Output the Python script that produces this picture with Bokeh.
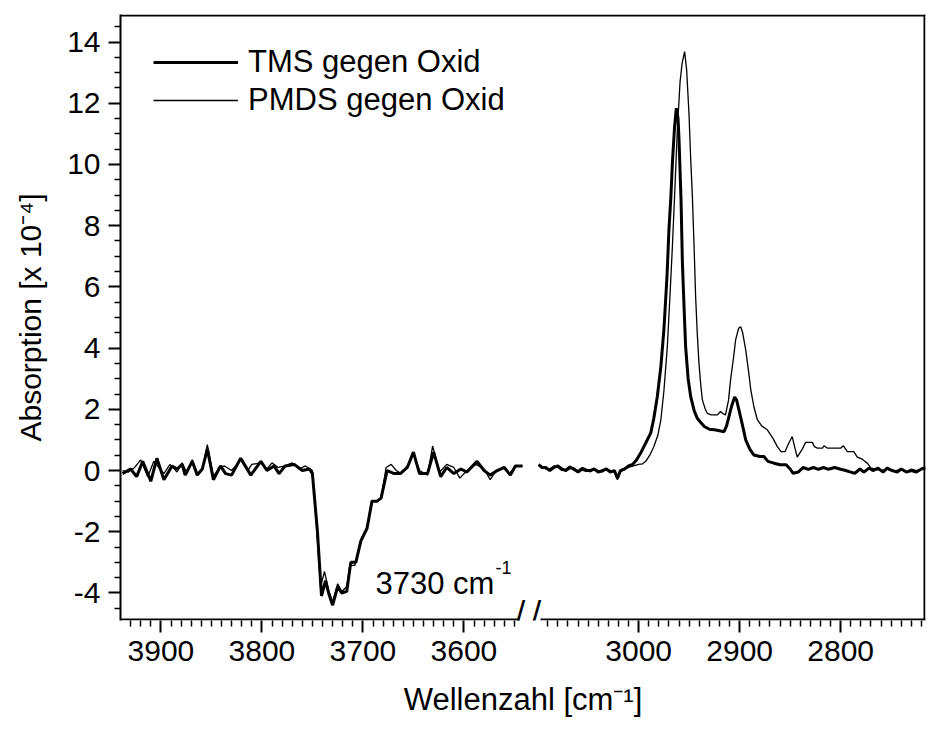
import numpy as np
from bokeh.plotting import figure
from bokeh.models import Range1d, FixedTicker, Label, Legend, LegendItem
from bokeh.embed import file_html
from bokeh.resources import INLINE

# ---------------- data (wavenumber in cm-1, absorption x 1e-4) ----------------
tms_left_w = [3938, 3930, 3924, 3918, 3910, 3904, 3897, 3889, 3884, 3879, 3876, 3869, 3864, 3859,
              3854, 3848, 3841, 3836, 3830, 3821, 3811, 3801, 3795, 3788, 3783, 3777, 3768, 3760,
              3753, 3750, 3745, 3741, 3737, 3734, 3730, 3725, 3721, 3716, 3712, 3707, 3702, 3696,
              3691, 3686, 3682, 3676, 3669, 3663, 3656, 3650, 3644, 3636, 3630, 3623, 3617, 3610,
              3603, 3597, 3587, 3580, 3574, 3567, 3560, 3554, 3549, 3542]
tms_left_y = [-0.1, 0.05, -0.2, 0.3, -0.35, 0.4, -0.3, 0.15, 0.05, 0.2, -0.15, 0.3, -0.15, 0.05,
              0.7, -0.3, 0.15, -0.1, -0.15, 0.4, -0.15, 0.3, 0.0, 0.15, -0.1, 0.15, 0.2, 0.0,
              0.05, -0.1, -2.0, -4.1, -3.6, -4.0, -4.4, -3.8, -4.0, -3.95, -3.0, -3.0, -2.3, -1.9,
              -1.0, -1.0, -0.9, 0.0, -0.1, -0.1, 0.1, 0.6, -0.1, -0.1, 0.6, -0.2, 0.1, -0.1,
              0.05, -0.05, 0.3, 0.0, -0.15, 0.0, 0.1, -0.15, 0.15, 0.15]

pmds_left_w = [3938, 3932, 3926, 3920, 3913, 3907, 3902, 3897, 3891, 3884, 3879, 3874, 3869, 3864,
               3859, 3854, 3848, 3842, 3837, 3830, 3821, 3814, 3810, 3801, 3795, 3790, 3784, 3777,
               3770, 3763, 3757, 3750, 3746, 3742, 3738, 3734, 3730, 3725, 3721, 3716, 3713, 3708,
               3702, 3696, 3691, 3686, 3682, 3677, 3672, 3667, 3662, 3656, 3650, 3644, 3636, 3631,
               3624, 3617, 3610, 3604, 3597, 3588, 3580, 3574, 3568, 3561, 3555, 3549, 3542]
pmds_left_y = [0.0, -0.05, 0.1, 0.35, -0.2, 0.3, 0.1, -0.1, 0.2, -0.05, 0.25, -0.1, 0.35, -0.1,
               0.05, 0.85, -0.2, 0.1, 0.15, 0.0, 0.35, 0.0, 0.2, 0.25, 0.05, 0.25, 0.1, 0.15,
               0.25, 0.05, 0.15, 0.0, -1.8, -3.8, -3.3, -3.9, -4.3, -3.7, -3.95, -3.8, -3.1, -3.1,
               -2.25, -1.85, -1.0, -1.0, -0.9, 0.1, 0.2, 0.0, -0.1, 0.15, 0.55, 0.0, -0.15, 0.8,
               -0.05, 0.2, 0.1, -0.25, 0.0, 0.2, 0.05, -0.3, 0.0, 0.1, -0.1, 0.15, 0.15]

tms_right_w = [3099, 3096, 3092, 3088, 3084, 3080, 3076, 3072, 3068, 3064, 3060, 3056, 3052, 3048,
               3044, 3040, 3036, 3032, 3028, 3024, 3021, 3018, 3014, 3010, 3006, 3002, 2998, 2993,
               2988, 2985, 2981.5, 2978, 2975, 2972, 2970, 2968, 2966.6, 2964.5, 2962.7, 2961,
               2960, 2958, 2956.7, 2955, 2953.5, 2951, 2948.5, 2945, 2942, 2938, 2935, 2930, 2925,
               2920, 2915.5, 2913, 2910.6, 2908, 2905, 2903, 2900.7, 2897, 2894, 2890, 2886, 2880,
               2876, 2872, 2866, 2860, 2854, 2850, 2847, 2842, 2837, 2832, 2827, 2822, 2817, 2812,
               2806, 2800, 2795, 2790, 2786, 2781, 2777, 2772, 2768, 2763, 2758, 2754, 2749, 2744,
               2740, 2735, 2730, 2725, 2720, 2716]
tms_right_y = [0.2, 0.1, 0.1, 0.0, 0.1, 0.15, 0.05, 0.0, 0.1, 0.05, -0.05, 0.05, 0.0, 0.0,
               0.05, -0.05, 0.0, 0.05, -0.05, 0.0, -0.25, 0.0, 0.05, 0.15, 0.2, 0.35, 0.57, 0.9,
               1.23, 1.7, 2.42, 3.4, 4.6, 6.3, 7.87, 9.0, 10.05, 11.2, 11.84, 11.5,
               10.8, 8.8, 6.8, 5.3, 4.05, 3.0, 2.42, 1.95, 1.71, 1.55, 1.44, 1.35, 1.33,
               1.3, 1.27, 1.45, 1.76, 2.1, 2.4, 2.3, 1.98, 1.45, 1.0, 0.7, 0.51, 0.46,
               0.46, 0.3, 0.24, 0.19, 0.19, 0.05, -0.09, -0.05, 0.1, 0.04, 0.1, 0.04, 0.1, 0.04,
               0.1, 0.04, 0.0, -0.05, -0.09, 0.05, -0.05, 0.08, 0.0, 0.08, -0.05, 0.08, 0.0, -0.05,
               0.05, -0.05, 0.0, -0.05, 0.05, 0.1]

pmds_right_w = [3099, 3096, 3092, 3088, 3084, 3080, 3076, 3072, 3068, 3064, 3060, 3056, 3052, 3048,
                3044, 3040, 3036, 3032, 3028, 3024, 3021, 3018, 3014, 3010, 3005, 3000, 2996, 2993,
                2989, 2985, 2981, 2978, 2975, 2971.6, 2969, 2966.6, 2964, 2961.7, 2959, 2957,
                2954.5, 2952.5, 2950.2, 2948.5, 2946.8, 2945, 2943.6, 2942, 2940.3, 2938.5, 2936.9,
                2934, 2932, 2928, 2922, 2919, 2916, 2914, 2911, 2909, 2906, 2904, 2901, 2899, 2897,
                2894, 2891, 2889, 2886, 2882.5, 2878, 2872.6, 2867, 2862.7, 2859, 2855, 2852, 2848,
                2845, 2843, 2838, 2834.7, 2828, 2826, 2823, 2818, 2816.5, 2813, 2806, 2800, 2797.4,
                2793.4, 2787, 2783.5, 2778.6, 2773.6, 2770, 2766, 2760, 2755, 2750, 2745, 2740,
                2735, 2730, 2725, 2720, 2716]
pmds_right_y = [0.15, 0.15, 0.05, 0.05, 0.15, 0.1, 0.0, 0.05, 0.15, 0.0, 0.0, 0.1, 0.05, -0.05,
                0.05, 0.0, -0.05, 0.05, 0.0, -0.05, -0.3, -0.05, 0.05, 0.1, 0.15, 0.2, 0.22, 0.3,
                0.5, 0.78, 1.15, 1.66, 2.6, 4.05, 5.7, 7.32, 9.3, 11.13, 12.7, 13.3,
                13.69, 13.1, 11.68, 10.2, 8.95, 7.2, 5.69, 4.5, 3.51, 2.8, 2.31,
                2.0, 1.87, 1.82, 1.82, 1.93, 1.85, 1.82, 2.3, 2.96, 3.7, 4.27, 4.65, 4.7, 4.5,
                3.94, 3.2, 2.64, 2.1, 1.66, 1.45, 1.33, 1.05, 0.78, 0.62, 0.62, 0.85, 1.11,
                0.7, 0.44, 0.7, 0.92, 0.92, 0.78, 0.73, 0.73, 0.81, 0.73, 0.73, 0.73, 0.81,
                0.62, 0.62, 0.44, 0.37, 0.24, 0.08, 0.05, 0.0, 0.05, 0.0, 0.0, 0.05,
                -0.05, 0.05, 0.0, 0.05, 0.05]

x_major_ticks = [3900, 3800, 3700, 3600, 3000, 2900, 2800]
y_major_ticks = [-4, -2, 0, 2, 4, 6, 8, 10, 12, 14]
series_labels = ["TMS gegen Oxid", "PMDS gegen Oxid"]
x_title = "Wellenzahl [cm\u207b\u00b9]"
y_title = "Absorption [x 10\u207b\u2074]"

# ---------------- broken axis mapping ----------------
W_LEFT_START = 3940      # left edge of left segment
W_RIGHT_REF = 3513       # right segment: u = W_RIGHT_REF - w
U_MAX = 797
Y_MIN, Y_MAX = -4.9, 14.9
FR_L, FR_T, FR_W, FR_H = 120, 14, 805, 606

def to_u(w):
    w = np.asarray(w, dtype=float)
    return np.where(w >= 3300, W_LEFT_START - w, W_RIGHT_REF - w)

def px_u(px):
    return (px - FR_L) * U_MAX / FR_W

def py_y(py):
    return Y_MAX - (py - FR_T) * (Y_MAX - Y_MIN) / FR_H

def series(lw, ly, rw, ry):
    u = np.concatenate([to_u(lw), [np.nan], to_u(rw)])
    y = np.concatenate([np.asarray(ly, float), [np.nan], np.asarray(ry, float)])
    return u, y

FONT = "Liberation Sans"

p = figure(width=929, height=733, x_range=Range1d(0, U_MAX), y_range=Range1d(Y_MIN, Y_MAX),
           output_backend="svg", toolbar_location=None,
           min_border_left=FR_L, min_border_right=929 - FR_L - FR_W,
           min_border_top=FR_T, min_border_bottom=733 - FR_T - FR_H)
p.outline_line_color = None
p.grid.visible = False
p.background_fill_color = "white"
p.border_fill_color = "white"

# curves (thin first, thick on top)
u_p, y_p = series(pmds_left_w, pmds_left_y, pmds_right_w, pmds_right_y)
u_t, y_t = series(tms_left_w, tms_left_y, tms_right_w, tms_right_y)
r_pmds = p.line(u_p, y_p, line_color="black", line_width=1.3)
r_tms = p.line(u_t, y_t, line_color="black", line_width=3)

# ---------------- axes ----------------
maj_u = [int(round(float(to_u(w)))) for w in x_major_ticks]
left_minor = [w for w in range(3930, 3545, -10) if w not in x_major_ticks]
right_minor = [w for w in range(3090, 2715, -10) if w not in x_major_ticks]
min_u = [float(to_u(w)) for w in left_minor + right_minor]
p.xaxis.ticker = FixedTicker(ticks=maj_u, minor_ticks=min_u)
p.xaxis.major_label_overrides = {u: str(w) for u, w in zip(maj_u, x_major_ticks)}
p.xaxis.axis_line_color = None
p.xaxis.axis_label = x_title
p.xaxis.axis_label_standoff = 18

y_minor = [v / 2 for v in range(-9, 30) if v % 4 != 0]
p.yaxis.ticker = FixedTicker(ticks=y_major_ticks, minor_ticks=y_minor)
p.yaxis.major_label_overrides = {v: str(v) for v in y_major_ticks}
p.yaxis.axis_line_width = 2
p.yaxis.axis_line_color = "black"
p.yaxis.axis_label = y_title
p.yaxis.axis_label_standoff = 17

for ax in (p.xaxis[0], p.yaxis[0]):
    ax.major_tick_in = 0
    ax.minor_tick_in = 0
    ax.major_tick_out = 12
    ax.minor_tick_out = 6
    ax.major_tick_line_width = 2
    ax.minor_tick_line_width = 1.5
    ax.major_tick_line_color = "black"
    ax.minor_tick_line_color = "black"
    ax.major_label_text_font = FONT
    ax.major_label_text_font_size = "30px"
    ax.major_label_text_color = "black"
    ax.major_label_standoff = 8
    ax.axis_label_text_font = FONT
    ax.axis_label_text_font_style = "normal"
    ax.axis_label_text_color = "black"
p.xaxis.axis_label_text_font_size = "31px"
p.yaxis.axis_label_text_font_size = "30px"

# frame lines (top, right, broken bottom)
dy = (Y_MAX - Y_MIN) / FR_H
du = U_MAX / FR_W
p.line([0, U_MAX], [Y_MAX - dy, Y_MAX - dy], line_color="black", line_width=2)
p.line([U_MAX - du, U_MAX - du], [Y_MIN, Y_MAX], line_color="black", line_width=2)
p.line([0, px_u(519)], [Y_MIN + dy, Y_MIN + dy], line_color="black", line_width=2)
p.line([px_u(540), U_MAX], [Y_MIN + dy, Y_MIN + dy], line_color="black", line_width=2)

# axis-break marks
for cx in (520, 536):
    p.add_layout(Label(x=px_u(cx), y=py_y(611), text="/", text_font=FONT, text_font_size="34px",
                       text_align="center", text_baseline="middle", text_color="black"))

# ---------------- annotation with superscript ----------------
def lab(x, y, text, size, align="left"):
    p.add_layout(Label(x=x, y=y, text=text, text_font=FONT, text_font_size=size,
                       text_align=align, text_baseline="alphabetic", text_color="black"))

lab(px_u(375), py_y(583), "3730 cm", "31px")
lab(px_u(495), py_y(567), "-1", "18px")

# ---------------- legend ----------------
legend = Legend(items=[LegendItem(label=series_labels[0], renderers=[r_tms]),
                       LegendItem(label=series_labels[1], renderers=[r_pmds])],
                location=(33, 501), glyph_width=85, glyph_height=38, label_height=38,
                label_standoff=10, spacing=0, padding=0, margin=0,
                border_line_color=None, background_fill_alpha=0,
                label_text_font=FONT, label_text_font_size="31px",
                label_text_baseline="middle", label_text_color="black")
p.add_layout(legend)

open("out.html", "w").write(file_html(p, INLINE))
